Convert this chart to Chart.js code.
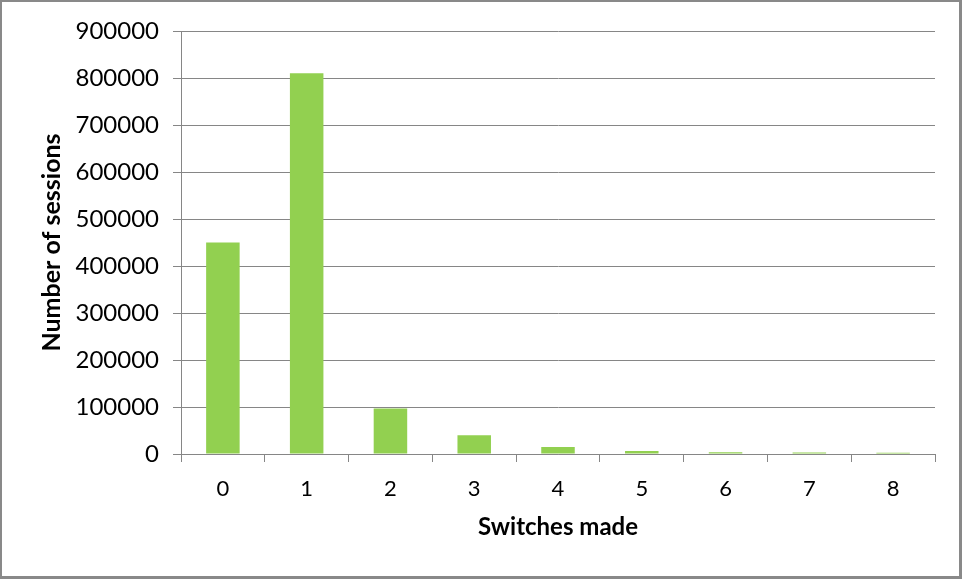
<!DOCTYPE html>
<html>
<head>
<meta charset="utf-8">
<script src="https://cdn.jsdelivr.net/npm/chart.js@4/dist/chart.umd.min.js"></script>
<style>
  html, body { margin: 0; padding: 0; background: #fff; }
  #wrap { width: 962px; height: 579px; position: relative; }
</style>
</head>
<body>
<div id="wrap"><canvas id="chart" width="962" height="579"></canvas></div>
<script>
// Sessions grouped by how many switches were made
const switchCounts = ['0', '1', '2', '3', '4', '5', '6', '7', '8'];
const sessionCounts = [450000, 810000, 97000, 40000, 15000, 6500, 3500, 3000, 2500];
const yTicks = [0, 100000, 200000, 300000, 400000, 500000, 600000, 700000, 800000, 900000];

const axisGray = '#868686';
const barGreen = '#92D050';

// Frame around the whole figure
const framePlugin = {
  id: 'frame',
  afterDraw(chart) {
    const ctx = chart.ctx;
    ctx.save();
    ctx.fillStyle = '#898989';
    const w = chart.width, h = chart.height;
    ctx.fillRect(0, 0, w, 2);
    ctx.fillRect(0, 0, 2, h);
    ctx.fillRect(w - 3, 0, 3, h);
    ctx.fillRect(0, h - 3, w, 3);
    ctx.restore();
  }
};

new Chart(document.getElementById('chart'), {
  type: 'bar',
  data: {
    labels: switchCounts,
    datasets: [{
      data: sessionCounts,
      backgroundColor: barGreen,
      borderWidth: 0,
      categoryPercentage: 1,
      barPercentage: 0.4
    }]
  },
  options: {
    responsive: false,
    animation: false,
    layout: { padding: { left: 0, top: 31, right: 27, bottom: 0 } },
    plugins: { legend: { display: false }, tooltip: { enabled: false } },
    scales: {
      x: {
        grid: { display: true, drawOnChartArea: false, drawTicks: true, tickLength: 8, color: axisGray, offset: true },
        border: { color: axisGray, width: 1 },
        ticks: { color: '#000', font: { family: 'Lato', size: 22 }, padding: 14 },
        title: { display: true, text: 'Switches made', color: '#000', font: { family: 'Lato', size: 24, weight: 'bold' }, padding: { top: 37, bottom: 37 } },
        afterFit(scale) { scale.height = 579 - 454; }
      },
      y: {
        min: 0,
        max: 900000,
        afterBuildTicks(scale) { scale.ticks = yTicks.map(v => ({ value: v })); },
        grid: { color: axisGray, tickLength: 8, lineWidth: 1 },
        border: { color: axisGray, width: 1 },
        ticks: { color: '#000', font: { family: 'Lato', size: 24 }, padding: 14, callback: v => String(v) },
        title: { display: true, text: 'Number of sessions', color: '#000', font: { family: 'Lato', size: 25, weight: 'bold' }, padding: { top: 37, bottom: 37 } },
        afterFit(scale) { scale.width = 181; }
      }
    }
  },
  plugins: [framePlugin]
});
</script>
</body>
</html>
